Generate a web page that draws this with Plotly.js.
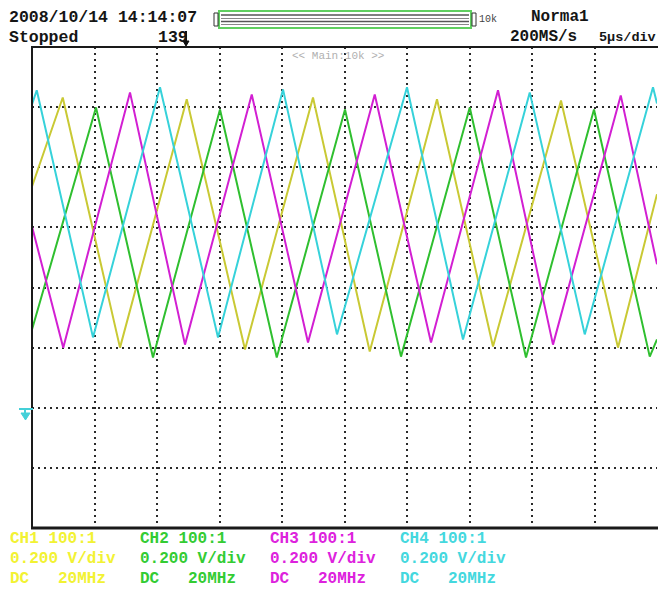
<!DOCTYPE html>
<html>
<head>
<meta charset="utf-8">
<script src="https://cdn.plot.ly/plotly-3.0.1.min.js"></script>
<style>html,body{margin:0;padding:0;background:#fff;}#chart{width:658px;height:591px;}</style>
</head>
<body>
<div id="chart"></div>
<script>
// ---- Data (time in µs, 5 µs/div; level in V, 0.2 V/div, relative to screen centre) ----
const channelNames = ["CH1", "CH2", "CH3", "CH4"];
const probeLabels = ["100:1", "100:1", "100:1", "100:1"];
const scaleLabels = ["0.200 V/div", "0.200 V/div", "0.200 V/div", "0.200 V/div"];
const couplingLabels = ["DC   20MHz", "DC   20MHz", "DC   20MHz", "DC   20MHz"];

// CH1 (yellow) waveform vertices
const ch1Time = [0, 2.46, 7.04, 12.38, 17.04, 22.48, 27.02, 32.4, 36.88, 42.32, 46.88, 50.0];
const ch1Volt = [0.336, 0.632, -0.200, 0.626, -0.206, 0.632, -0.213, 0.626, -0.196, 0.622, -0.200, 0.310];
// CH2 (green)
const ch2Time = [0, 5.12, 9.68, 15.04, 19.58, 25.04, 29.52, 35.02, 39.52, 44.96, 49.42, 50.0];
const ch2Volt = [-0.140, 0.599, -0.233, 0.592, -0.233, 0.592, -0.230, 0.599, -0.233, 0.592, -0.230, -0.173];
// CH3 (magenta)
const ch3Time = [0, 2.5, 7.84, 12.24, 17.58, 22.08, 27.42, 31.92, 37.28, 41.68, 47.1, 50.0];
const ch3Volt = [0.203, -0.200, 0.649, -0.190, 0.642, -0.183, 0.642, -0.183, 0.656, -0.190, 0.639, 0.077];
// CH4 (cyan)
const ch4Time = [0, 0.38, 4.88, 10.24, 14.88, 20.08, 24.4, 30.0, 34.48, 39.82, 44.22, 49.68, 50.0];
const ch4Volt = [0.609, 0.656, -0.166, 0.666, -0.166, 0.659, -0.156, 0.666, -0.173, 0.649, -0.156, 0.666, 0.612];

const headerDate = "2008/10/14 14:14:07";
const headerState = "Stopped";
const headerCount = "139";
const headerMode = "Norma1";
const headerRate = "200MS/s";
const headerTimebase = "5\u03bcs/div";
const memLabel = "10k";
const zoomLabel = "<< Main:10k >>";

// ---- Styling ----
const traceColors = ["#c9c934", "#2fbf2f", "#d21fd2", "#36d2da"];
const textColors  = ["#f2f233", "#33cc33", "#dd22dd", "#44d8de"];

const L = 32, R = 657, T = 47, B = 528;
const px = x => (x - L) / (R - L);
const py = y => (B - y) / (B - T);

const series = [
  [ch1Time, ch1Volt], [ch2Time, ch2Volt], [ch3Time, ch3Volt], [ch4Time, ch4Volt]
];
const data = series.map((s, i) => ({
  x: s[0], y: s[1], type: "scatter", mode: "lines",
  line: { color: traceColors[i], width: 2 },
  hoverinfo: "skip", name: channelNames[i]
}));

const mono = "Liberation Mono, DejaVu Sans Mono, monospace";
function ann(text, x, y, color, size, opts) {
  return Object.assign({
    text: text, xref: "paper", yref: "paper", x: px(x), y: py(y),
    xanchor: "left", yanchor: "middle", showarrow: false,
    font: { family: mono, size: size, color: color, weight: "bold" }
  }, opts || {});
}

const annotations = [
  ann(headerDate, 7, 17, "#151515", 16.5),
  ann(headerState, 7, 37, "#151515", 16.5),
  ann(headerCount, 156, 37, "#151515", 16.5),
  ann(memLabel, 477, 20, "#444", 10, {font: {family: mono, size: 10, color: "#444"}}),
  ann(headerMode, 529, 17, "#151515", 16),
  ann(headerRate, 508, 37, "#151515", 16),
  ann(headerTimebase, 597, 37, "#151515", 13.5),
  ann(zoomLabel, 290, 56, "#b0b0b0", 11, {font: {family: mono, size: 11, color: "#b0b0b0"}})
];
const cols = [8, 138, 268, 398];
channelNames.forEach((c, i) => {
  annotations.push(ann(c + " " + probeLabels[i], cols[i], 539, textColors[i], 16));
  annotations.push(ann(scaleLabels[i], cols[i], 559, textColors[i], 16));
  annotations.push(ann(couplingLabels[i], cols[i], 579, textColors[i], 16));
});

function seg(x0, y0, x1, y1, color, w) {
  return { type: "line", xref: "paper", yref: "paper", x0: px(x0), y0: py(y0), x1: px(x1), y1: py(y1),
           line: { color: color, width: w }, layer: "above" };
}
function rect(x0, y0, x1, y1, color, w, fill) {
  return { type: "rect", xref: "paper", yref: "paper", x0: px(x0), y0: py(y0), x1: px(x1), y1: py(y1),
           line: { color: color, width: w }, fillcolor: fill || "rgba(0,0,0,0)", layer: "above" };
}
function path(pts, color) {
  const d = pts.map((p, k) => (k ? "L" : "M") + px(p[0]) + "," + py(p[1])).join(" ") + " Z";
  return { type: "path", xref: "paper", yref: "paper", path: d, fillcolor: color, line: { color: color, width: 1 }, layer: "above" };
}

const shapes = [
  // frame
  seg(L, T, L, B + 1, "#1a1a1a", 2),
  seg(L - 1, T, 660, T, "#1a1a1a", 2),
  seg(L - 1, B, 660, B, "#1a1a1a", 3),
  // memory bar
  rect(219, 11, 471, 28, "#5fcf5f", 2, "#ffffff"),
  seg(221, 15, 469, 15, "#555", 1.5),
  seg(221, 18.5, 469, 18.5, "#888", 1),
  seg(221, 21.5, 469, 21.5, "#555", 1.5),
  seg(221, 24.5, 469, 24.5, "#888", 1),
  rect(214, 13, 218, 26, "#333", 1),
  rect(472, 13, 476, 26, "#333", 1),
  // trigger pointer
  seg(186, 31, 186, 45, "#111", 2),
  path([[183, 41], [189, 41], [186, 46]], "#111"),
  // CH4 ground marker
  seg(19, 409, 33, 409, "#44d0d8", 2),
  seg(25, 409, 25, 414, "#44d0d8", 2),
  path([[21, 413], [30, 413], [25.5, 420]], "#44d0d8")
];

const gridStyle = {
  showgrid: true, gridcolor: "#2a2a2a", gridwidth: 2, griddash: "2px,4px",
  showticklabels: false, ticks: "", zeroline: false, showline: false, fixedrange: true
};

const layout = {
  width: 658, height: 591,
  margin: { l: 32, r: 1, t: 47, b: 63, pad: 0 },
  paper_bgcolor: "#ffffff", plot_bgcolor: "#ffffff",
  showlegend: false,
  xaxis: Object.assign({ range: [0, 50], tick0: 0, dtick: 5 }, gridStyle),
  yaxis: Object.assign({ range: [-0.8, 0.8], tick0: 0, dtick: 0.2 }, gridStyle),
  annotations: annotations,
  shapes: shapes
};

Plotly.newPlot("chart", data, layout, { staticPlot: true, displayModeBar: false });
</script>
</body>
</html>
